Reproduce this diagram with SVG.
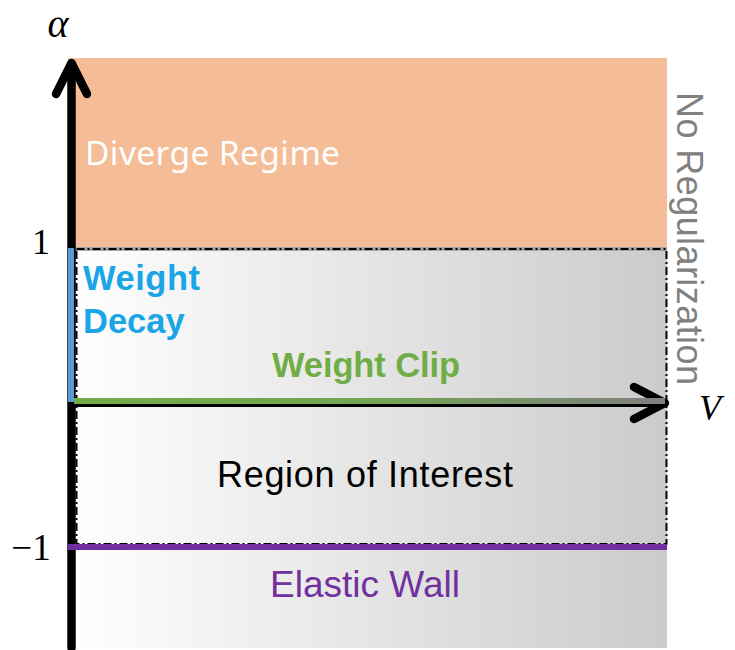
<svg xmlns="http://www.w3.org/2000/svg" width="735" height="650" viewBox="0 0 735 650">
<defs>
<style>
.sans{font-family:"Liberation Sans",Arial,sans-serif}
.noto{font-family:"Noto Sans","Open Sans",sans-serif}
.math{font-family:"Liberation Serif","DejaVu Serif",serif}
.axis{stroke:#000;stroke-width:8.5;stroke-linecap:round;stroke-linejoin:round;fill:none}
.dashdot{fill:none;stroke:#000;stroke-width:2;stroke-dasharray:8 3 2 3}
</style>
<linearGradient id="gray" x1="0" y1="0" x2="1" y2="0">
<stop offset="0" stop-color="#ffffff"/>
<stop offset="1" stop-color="#cbcbcb"/>
</linearGradient>
<linearGradient id="clip" gradientUnits="userSpaceOnUse" x1="74" y1="0" x2="665" y2="0">
<stop offset="0" stop-color="#70ad47"/>
<stop offset="0.5" stop-color="#72a552"/>
<stop offset="1" stop-color="#7f7f7f"/>
</linearGradient>
</defs>
<g id="diverge">
<rect x="68" y="58" width="599" height="190" fill="#f5bd97"/>
<text class="noto" x="85" y="165" font-size="33.5" textLength="255" fill="#ffffff">Diverge Regime</text>
</g>
<g id="stable">
<rect x="68" y="247" width="599" height="401" fill="url(#gray)"/>
<line x1="68" y1="249" x2="667" y2="249" stroke="#a6a6a6" stroke-width="4"/>
</g>
<g id="region-of-interest">
<rect class="dashdot" x="76.5" y="249" width="590" height="295"/>
<text class="sans" x="217" y="487" font-size="36" textLength="296" fill="#000">Region of Interest</text>
</g>
<g id="connectors">
<line class="axis" x1="71.5" y1="648" x2="71.5" y2="64"/>
<polyline class="axis" points="56,94 71.5,63 87,94"/>
<line x1="70" y1="405" x2="664" y2="405" stroke="#000" stroke-width="4"/>
<polyline class="axis" points="634,387 665,403 634,419"/>
</g>
<g id="weight-decay">
<line x1="71" y1="248" x2="71" y2="402" stroke="#5b9bd5" stroke-width="6"/>
<text class="sans" x="83" y="290" font-size="34.5" font-weight="bold" textLength="117" fill="#1aa5e6">Weight</text>
<text class="sans" x="83" y="333" font-size="34.5" font-weight="bold" fill="#1aa5e6">Decay</text>
</g>
<g id="weight-clip">
<line x1="74" y1="401" x2="665" y2="401" stroke="url(#clip)" stroke-width="6"/>
<text class="sans" x="272" y="377" font-size="34.5" font-weight="bold" textLength="188" fill="#70ad47">Weight Clip</text>
</g>
<g id="elastic-wall">
<line x1="68" y1="547" x2="667" y2="547" stroke="#7030a0" stroke-width="6"/>
<text class="sans" x="270" y="597" font-size="37" textLength="190" fill="#7030a0">Elastic Wall</text>
</g>
<g id="no-regularization">
<text class="sans" transform="translate(677,92) rotate(90)" font-size="36" textLength="293" fill="#808080">No Regularization</text>
</g>
<g id="labels">
<text class="math" x="58" y="37" font-size="40" font-style="italic" text-anchor="middle">α</text>
<text class="math" x="41" y="254" font-size="36" text-anchor="middle">1</text>
<text class="math" x="31" y="560" font-size="37" text-anchor="middle">−1</text>
<text class="math" x="710" y="420" font-size="36" font-style="italic" text-anchor="middle">V</text>
</g>
</svg>
